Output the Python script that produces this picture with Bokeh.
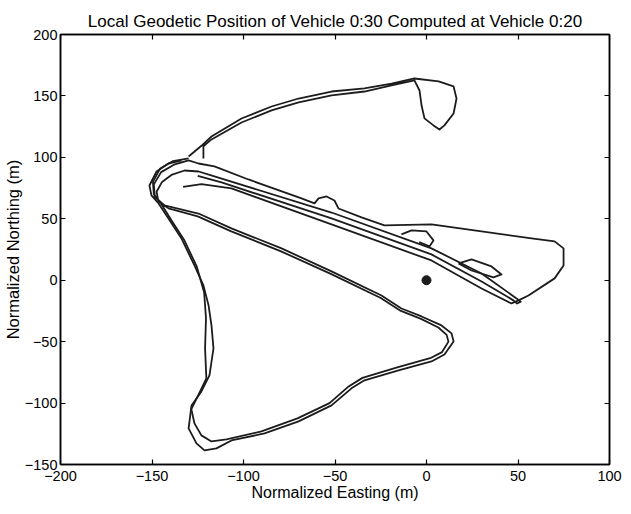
from bokeh.plotting import figure
from bokeh.models import Range1d, FixedTicker, LinearAxis, CustomJSTickFormatter
from bokeh.embed import file_html
from bokeh.resources import INLINE

# ---- data (metres) ----
arc_x = [-130.0, -123.0, -117.5, -101.1, -84.7, -69.9, -51.9, -33.9, -19.1, -6.6, 6.6, 14.8, 16.4,
         14.8, 9.8, 7.1, 3.8, -1.1, -2.7, -3.8, -6.6, -19.1, -33.9, -51.9, -69.9, -84.7, -101.1,
         -117.5, -121.9, -121.9]
arc_y = [100.7, 109.4, 117.0, 131.6, 141.4, 147.9, 153.6, 156.1, 160.1, 164.2, 161.8, 157.7, 147.9,
         135.7, 126.0, 122.7, 126.0, 131.7, 142.2, 154.4, 162.6, 158.5, 153.6, 150.4, 144.7, 138.2,
         128.4, 114.6, 108.9, 99.1]

pass1_x = [-133.9, -141.0, -147.5, -151.4, -150.3, -146.4, -141.0, -133.9, -126.8, -121.9, -119.1,
           -117.5, -116.4, -118.6, -123.0, -128.4, -130.0, -125.7, -121.3, -114.8, -106.6, -88.5,
           -69.9, -51.9, -41.0, -33.9, -15.3, 2.7, 9.8, 14.8, 13.7, 8.2, -2.7, -13.7, -24.6, -51.9,
           -79.2, -106.6, -124.6, -143.2, -148.5, -149.0, -145.0, -138.0, -130.0, -124.6, -115.9,
           -97.3, -68.3, -61.2, -59.0, -54.6, -50.3, -48.1, -35.5, -23.0, 2.7, 30.1, 57.4, 70.0,
           74.9, 74.9, 70.0, 55.7, 50.3, 46.4, 30.1, 2.7, -51.9, -106.6, -123.0, -133.0]
pass1_y = [97.5, 95.0, 88.5, 77.1, 69.0, 62.5, 50.3, 34.0, 12.0, -4.2, -20.5,
           -36.8, -55.5, -77.5, -90.5, -101.9, -120.6, -132.8, -138.5, -136.9, -130.4, -124.7,
           -114.9, -101.9, -88.0, -81.5, -73.4, -66.1, -60.4, -49.8, -43.3, -36.8, -29.5, -23.0,
           -12.4, 7.2, 25.9, 42.2, 54.3, 60.9, 68.0, 78.0, 88.0, 94.0, 97.5, 95.0, 92.6,
           82.0, 66.6, 62.5, 66.6, 68.2, 64.9, 58.4, 51.1, 44.6, 45.4, 39.7, 34.0, 31.6,
           25.9, 12.0, 1.5, -12.4, -16.4, -18.9, -6.7, 16.1, 45.4, 74.7, 78.2, 76.0]

pass2_x = [-130.0, -138.5, -145.5, -149.5, -149.0, -144.5, -139.5, -132.5, -125.5, -121.5, -120.5,
           -121.0, -120.3, -124.5, -128.5, -126.8, -123.0, -117.5, -109.3, -90.2, -70.5, -53.0,
           -43.0, -35.0, -16.0, 2.0, 8.5, 12.0, 11.0, 6.5, -3.0, -14.0, -25.0, -52.0, -79.5, -107.0,
           -125.0, -141.0, -146.5, -147.5, -144.5, -139.0, -132.2, -124.5, -115.9, -51.9, 2.7, 30.1,
           49.2, 51.5, 49.5, 47.5, 30.1, 2.7, -51.9, -112.0, -125.0]
pass2_y = [99.1, 97.0, 91.0, 80.0, 70.0, 61.0, 49.0, 33.0, 11.0, -10.0, -31.1,
           -55.5, -79.9, -93.0, -105.0, -116.5, -126.3, -131.2, -129.6, -123.0, -112.5, -100.0,
           -87.0, -79.5, -71.0, -63.5, -58.5, -50.0, -44.5, -38.5, -31.5, -25.0, -14.5, 5.0, 23.5,
           40.0, 52.0, 58.5, 64.0, 72.0, 80.0, 86.0, 89.3, 88.5, 84.5, 55.1, 25.9, 5.5,
           -14.8, -17.5, -19.0, -16.4, -1.0, 21.0, 50.3, 79.6, 85.0]

loop1_x = [-13.7, -8.2, 0.0, 3.8, 1.6, -4.0]
loop1_y = [37.3, 40.5, 39.7, 32.4, 27.5, 31.0]

loop2_x = [17.5, 24.6, 35.5, 41.0, 36.6, 24.6, 17.5]
loop2_y = [13.7, 16.9, 11.2, 4.7, 2.3, 7.9, 13.7]

origin_x = [0.0]
origin_y = [0.0]

x_ticks = [-200, -150, -100, -50, 0, 50, 100]
y_ticks = [-150, -100, -50, 0, 50, 100, 150, 200]

FONT = "Liberation Sans"
INK = "#1c1c1c"

p = figure(frame_width=549, frame_height=430, output_backend="svg", toolbar_location=None,
           x_range=Range1d(-200, 100), y_range=Range1d(-150, 200),
           title="Local Geodetic Position of Vehicle 0:30 Computed at Vehicle 0:20",
           min_border_left=51, min_border_right=14, min_border_top=34, min_border_bottom=38)
p.background_fill_color = "white"
p.border_fill_color = "white"
p.outline_line_color = "black"
p.outline_line_width = 1.5
p.xgrid.visible = False
p.ygrid.visible = False

p.title.align = "center"
p.title.text_font = FONT
p.title.text_font_size = "17px"
p.title.text_font_style = "normal"
p.title.text_color = "black"
p.title.standoff = 8
p.title.text_line_height = 1.4

bottom_axis = p.below[0]
left_axis = p.left[0]
bottom_axis.axis_label = "Normalized Easting (m)"
left_axis.axis_label = "Normalized Northing (m)"
bottom_axis.ticker = FixedTicker(ticks=x_ticks)
left_axis.ticker = FixedTicker(ticks=y_ticks)

top_axis = LinearAxis(ticker=FixedTicker(ticks=x_ticks),
                      formatter=CustomJSTickFormatter(code="return ''"))
right_axis = LinearAxis(ticker=FixedTicker(ticks=y_ticks),
                        formatter=CustomJSTickFormatter(code="return ''"))
p.add_layout(top_axis, "above")
p.add_layout(right_axis, "right")

for ax in [bottom_axis, left_axis, top_axis, right_axis]:
    ax.minor_tick_line_color = None
    ax.major_tick_in = 5
    ax.major_tick_out = 0
    ax.major_tick_line_color = "black"
    ax.major_tick_line_width = 1.2
    ax.axis_line_color = "black"
    ax.axis_line_width = 1.5
    ax.major_label_text_font = FONT
    ax.major_label_text_font_size = "14.5px"
    ax.major_label_text_color = "black"
    ax.major_label_standoff = 3
    ax.axis_label_text_font = FONT
    ax.axis_label_text_font_size = "16px"
    ax.axis_label_text_font_style = "normal"
    ax.axis_label_text_color = "black"
    ax.axis_label_standoff = 0

top_axis.major_label_standoff = 4
right_axis.major_label_standoff = 0

left_axis.axis_label_text_font_size = "16.5px"
bottom_axis.major_label_standoff = 6

for xs, ys in [(arc_x, arc_y), (pass1_x, pass1_y), (pass2_x, pass2_y),
               (loop1_x, loop1_y), (loop2_x, loop2_y)]:
    p.line(xs, ys, line_color=INK, line_width=1.8, line_join="round")

p.scatter(origin_x, origin_y, size=9, fill_color=INK, line_color=INK)

open("out.html", "w").write(file_html(p, INLINE))
